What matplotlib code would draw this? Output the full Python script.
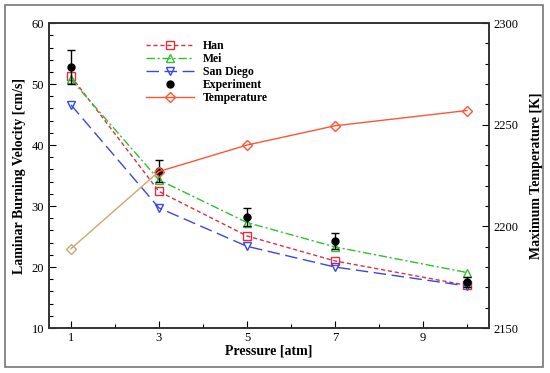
import numpy as np
import matplotlib
matplotlib.use('Agg')
import matplotlib.pyplot as plt
from matplotlib.patches import Rectangle

plt.rcParams['font.family'] = ['Liberation Serif', 'DejaVu Serif']

pressure = [1, 3, 5, 7, 10]
han = [51.3, 32.4, 25.1, 21.0, 17.0]
mei = [50.8, 34.3, 27.3, 23.3, 19.1]
san_diego = [46.6, 29.7, 23.4, 20.0, 16.9]
exp_vel = [52.8, 35.8, 28.2, 24.3, 17.6]
exp_err = [2.8, 1.8, 1.5, 1.3, 0.8]
temperature = [2189, 2227, 2240, 2249.5, 2257]

fig = plt.figure(figsize=(5.5, 3.73), dpi=100)
fig.patches.append(Rectangle((0.009, 0.016), 0.978, 0.97, transform=fig.transFigure,
                             fill=False, edgecolor='#777777', linewidth=1.2))
ax = fig.add_axes([0.089, 0.1206, 0.8, 0.8174])
ax2 = ax.twinx()

h1, = ax.plot(pressure, han, color='#E03040', linestyle=(0, (3, 2)), linewidth=1,
              marker='s', markersize=6, markerfacecolor='none', markeredgecolor='#E03040',
              label='Han')
h2, = ax.plot(pressure, mei, color='#30C030', linestyle=(0, (6, 2, 1.5, 2)), linewidth=1,
              marker='^', markersize=6, markerfacecolor='none', markeredgecolor='#30C030',
              label='Mei')
h3, = ax.plot(pressure, san_diego, color='#3848E0', linestyle=(0, (9, 4)), linewidth=1,
              marker='v', markersize=6, markerfacecolor='none', markeredgecolor='#3848E0',
              label='San Diego')
ax.errorbar(pressure, exp_vel, yerr=exp_err, fmt='o', color='black', markersize=5,
            capsize=3, elinewidth=1, capthick=1)
h4, = ax.plot([], [], 'o', color='black', markersize=5, label='Experiment')

# temperature on right axis; first segment is drawn in tan in the original
ax2.plot(pressure[:2], temperature[:2], color='#C8AA70', linewidth=1)
ax2.plot(pressure[:1], temperature[:1], linestyle='none', marker='D', markersize=5.5,
         markerfacecolor='none', markeredgecolor='#C8AA70')
ax2.plot(pressure[1:], temperature[1:], color='#FF5533', linewidth=1,
         marker='D', markersize=5.5, markerfacecolor='none', markeredgecolor='#FF5533')
h5, = ax.plot([], [], color='#FF5533', linewidth=1, marker='D', markersize=5.5,
              markerfacecolor='none', markeredgecolor='#FF5533', label='Temperature')

ax.set_xlim(0.5, 10.5)
ax.set_ylim(10, 60)
ax2.set_ylim(2150, 2300)
ax.set_xticks([1, 3, 5, 7, 9])
ax.set_xticks([2, 4, 6, 8, 10], minor=True)
ax.set_yticks(np.arange(10, 61, 10))
ax.set_yticks(np.arange(10, 61, 2), minor=True)
ax2.set_yticks([2150, 2200, 2250, 2300])
ax2.set_yticks(np.arange(2150, 2301, 10), minor=True)

for a in (ax, ax2):
    a.tick_params(which='major', direction='in', length=5, labelsize=9, width=0.8)
    a.tick_params(which='minor', direction='in', length=3, width=0.8)
    for s in a.spines.values():
        s.set_linewidth(1.2)
        s.set_color('#333333')
ax.tick_params(axis='x', pad=3)

ax.set_xlabel('Pressure [atm]', fontsize=10, fontweight='bold', labelpad=0)
ax.set_ylabel('Laminar Burning Velocity [cm/s]', fontsize=10, fontweight='bold')
ax2.set_ylabel('Maximum Temperature [K]', fontsize=10, fontweight='bold', labelpad=8)

ax.legend(handles=[h1, h2, h3, h4, h5], loc='upper left', bbox_to_anchor=(0.2, 0.975),
          frameon=False, prop={'weight': 'bold', 'size': 8.5}, handlelength=4.0,
          labelspacing=0.08, handletextpad=0.8, borderpad=0.3)

fig.savefig('out.png', dpi=100)
